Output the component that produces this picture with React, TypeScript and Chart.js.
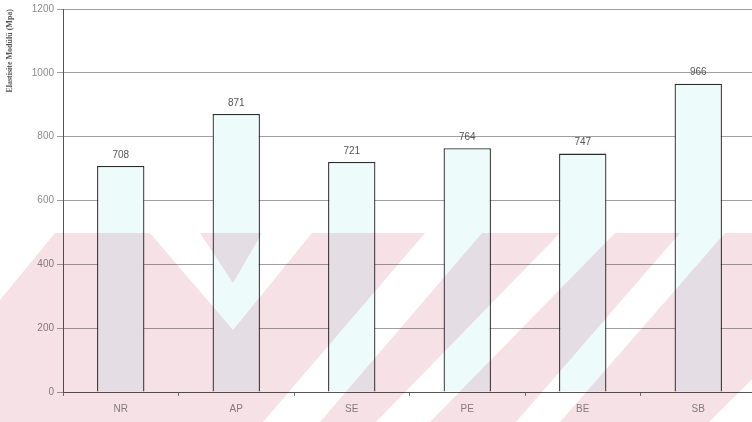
import React, { useEffect, useRef } from "react";
import { Chart, registerables } from "chart.js";

Chart.register(...registerables);

// Sample groups and their measured elastic modulus (MPa)
const categories = ["NR", "AP", "SE", "PE", "BE", "SB"];
const modulus = [708, 871, 721, 764, 747, 966];
const yTicks = [0, 200, 400, 600, 800, 1000, 1200];
const yTitle = "Elastisite Modülü (Mpa)";

const SANS = "'Liberation Sans', Arial, sans-serif";
const SERIF = "'Liberation Serif', 'Times New Roman', serif";

// Value printed above each bar
const valueLabels = {
  id: "valueLabels",
  afterDatasetsDraw(chart: any) {
    const { ctx } = chart;
    const meta = chart.getDatasetMeta(0);
    const values = chart.data.datasets[0].data as number[];
    ctx.save();
    ctx.font = `10px ${SANS}`;
    ctx.fillStyle = "#555";
    ctx.textAlign = "center";
    ctx.textBaseline = "bottom";
    meta.data.forEach((bar: any, i: number) => {
      ctx.fillText(String(values[i]), bar.x, bar.y - 6);
    });
    ctx.restore();
  },
};

// Pale pink diagonal stamp pattern laid over the lower part of the page
const stamp = {
  id: "stamp",
  afterDraw(chart: any) {
    const { ctx, width, height } = chart;
    const top = 233;
    const off = document.createElement("canvas");
    off.width = width;
    off.height = height;
    const o = off.getContext("2d")!;
    o.fillStyle = "rgb(246,225,231)";
    o.fillRect(0, top, width, height - top);
    o.globalCompositeOperation = "destination-out";
    o.fillStyle = "#000";
    const gaps: number[][][] = [
      [[0, top], [55, top], [0, 300]],
      [[150, top], [200, top], [233, 283], [262, top], [312, top], [233, 330]],
      [[263, 422], [320, 422], [482, top], [425, top]],
      [[376, 422], [430, 422], [615, top], [560, top]],
      [[516, 422], [560, 422], [725, top], [680, top]],
      [[709, 422], [760, 422], [950, top], [900, top]],
    ];
    gaps.forEach((poly) => {
      o.beginPath();
      poly.forEach(([x, y], i) => (i ? o.lineTo(x, y) : o.moveTo(x, y)));
      o.closePath();
      o.fill();
    });
    ctx.save();
    ctx.globalCompositeOperation = "multiply";
    ctx.drawImage(off, 0, 0);
    ctx.restore();
  },
};

export default function App() {
  const canvasRef = useRef<HTMLCanvasElement | null>(null);

  useEffect(() => {
    if (!canvasRef.current) return;
    const chart = new Chart(canvasRef.current, {
      type: "bar",
      data: {
        labels: categories,
        datasets: [
          {
            data: modulus,
            backgroundColor: "#edfbfb",
            borderColor: "#2b2b2b",
            borderWidth: 1.3,
            barPercentage: 0.41,
            categoryPercentage: 1,
          },
        ],
      },
      options: {
        responsive: false,
        animation: false,
        layout: { padding: { top: 8, right: 4, left: 0, bottom: 0 } },
        plugins: {
          legend: { display: false },
          tooltip: { enabled: false },
        },
        scales: {
          x: {
            grid: {
              display: true,
              drawOnChartArea: false,
              offset: true,
              tickLength: 4,
              color: "#777",
            },
            border: { color: "#555" },
            ticks: { color: "#8a8a8a", font: { size: 10, family: SANS }, padding: 7 },
            afterFit: (s: any) => {
              s.height = 30;
            },
          },
          y: {
            min: 0,
            max: 1200,
            afterBuildTicks: (s: any) => {
              s.ticks = yTicks.map((v) => ({ value: v }));
            },
            grid: { color: "#a0a0a0", tickLength: 6 },
            border: { color: "#555" },
            ticks: {
              color: "#8a8a8a",
              font: { size: 10, family: SANS },
              padding: 3,
              callback: (v: any) => String(v),
            },
            title: {
              display: true,
              text: yTitle,
              align: "end",
              color: "#555",
              font: { family: SERIF, size: 8, weight: "bold" },
              padding: { top: 5, bottom: 0 },
            },
            afterFit: (s: any) => {
              s.width = 63;
            },
          },
        },
      },
      plugins: [valueLabels, stamp],
    });
    return () => chart.destroy();
  }, []);

  return (
    <div
      style={{
        position: "fixed",
        left: 0,
        top: 0,
        width: 752,
        height: 422,
        overflow: "hidden",
        background: "#fff",
      }}
    >
      <canvas ref={canvasRef} width={760} height={422} style={{ display: "block" }} />
    </div>
  );
}
